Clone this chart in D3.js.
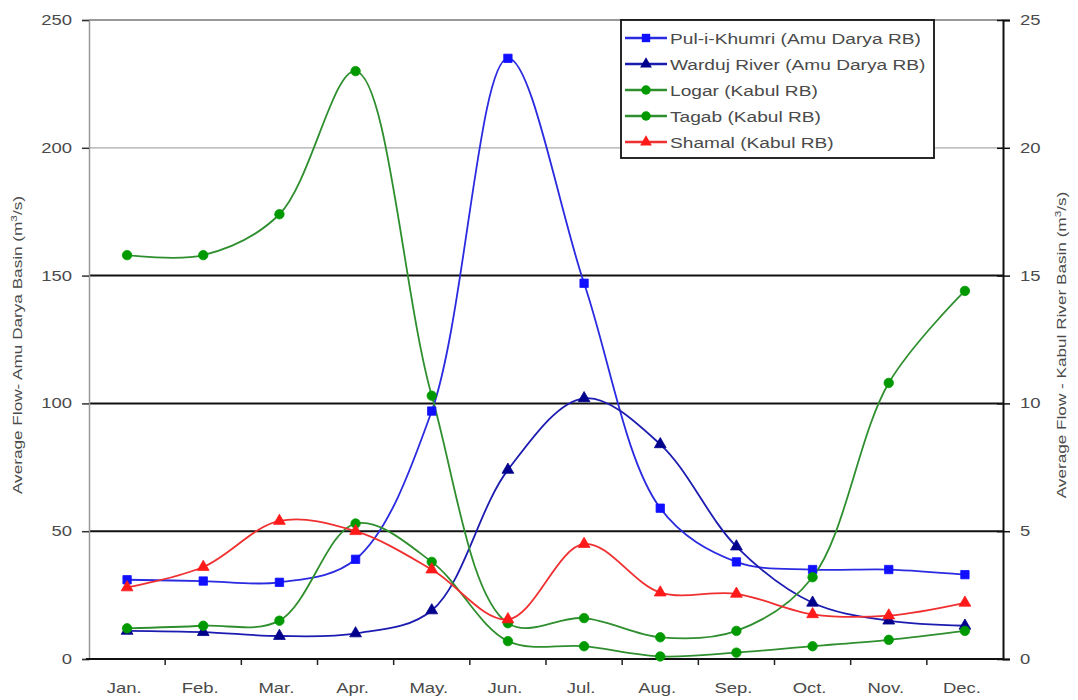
<!DOCTYPE html>
<html>
<head>
<meta charset="utf-8">
<script src="https://cdn.jsdelivr.net/npm/d3@7"></script>
<style>
  body { margin: 0; background: #fff; }
  svg { font-family: "Liberation Sans", Arial, sans-serif; }
</style>
</head>
<body>
<svg id="chart" width="1078" height="700"></svg>
<script>
// months on the x axis
var months = ["Jan.", "Feb.", "Mar.", "Apr.", "May.", "Jun.", "Jul.", "Aug.", "Sep.", "Oct.", "Nov.", "Dec."];
// Amu Darya basin, left axis (m3/s)
var puliKhumri = [31, 30.5, 30, 39, 97, 235, 147, 59, 38, 35, 35, 33];
var warduj = [11, 10.5, 9, 10, 19, 74, 102, 84, 44, 22, 15, 13];
// Kabul basin, right axis (m3/s)
var logar = [15.8, 15.8, 17.4, 23.0, 10.3, 1.4, 1.6, 0.85, 1.1, 3.2, 10.8, 14.4];
var tagab = [1.2, 1.3, 1.5, 5.3, 3.8, 0.7, 0.5, 0.1, 0.25, 0.5, 0.75, 1.1];
var shamal = [2.8, 3.6, 5.4, 5.0, 3.5, 1.55, 4.5, 2.6, 2.55, 1.75, 1.7, 2.2];
var leftTicks = [0, 50, 100, 150, 200, 250];
var rightTicks = [0, 5, 10, 15, 20, 25];

var svg = d3.select("#chart");
var plotL = 89, plotR = 1003, plotT = 20, plotB = 659;
var txtColor = "#4a4a4a";
var stretch = 1.32; // the source text is wide, squeeze it out horizontally

var x = d3.scaleBand().domain(months).range([plotL, plotR]);
var cx = function(i) { return x(months[i]) + x.bandwidth() / 2; };
var yL = d3.scaleLinear().domain([0, 250]).range([plotB, plotT]);
var yR = d3.scaleLinear().domain([0, 25]).range([plotB, plotT]);

// a text that is wider than the font would draw it
function wideText(parent, px, py, anchor, size, rot) {
    return parent.append("text")
        .attr("transform", "translate(" + px + "," + py + ")" + (rot ? " rotate(" + rot + ")" : "") + " scale(" + stretch + ",1)")
        .attr("text-anchor", anchor).attr("font-size", size).attr("fill", txtColor);
}

// gridlines
leftTicks.forEach(function(t) {
    if (t === 0) return;
    var dark = (t === 50 || t === 100 || t === 150);
    svg.append("line")
        .attr("x1", plotL).attr("x2", plotR)
        .attr("y1", yL(t)).attr("y2", yL(t))
        .attr("stroke", dark ? "#111" : (t === 250 ? "#777" : "#aaa"))
        .attr("stroke-width", dark ? 2 : 1.3);
});

// left axis
var gL = svg.append("g").attr("transform", "translate(" + plotL + ",0)")
    .call(d3.axisLeft(yL).tickValues(leftTicks).tickSize(7).tickFormat(""));
gL.select(".domain").attr("stroke", "#999").attr("stroke-width", 1.5);
gL.selectAll(".tick line").attr("stroke", "#333").attr("stroke-width", 1.5);
leftTicks.forEach(function(t) {
    wideText(svg, 72, yL(t) + 5, "end", 14).text(t);
});

// right axis
var gR = svg.append("g").attr("transform", "translate(" + plotR + ",0)")
    .call(d3.axisRight(yR).tickValues(rightTicks).tickSize(7).tickFormat(""));
gR.select(".domain").attr("stroke", "#111").attr("stroke-width", 2);
gR.selectAll(".tick line").attr("stroke", "#111").attr("stroke-width", 1.5).attr("x1", -6);
rightTicks.forEach(function(t) {
    wideText(svg, 1020, yR(t) + 5, "start", 14).text(t);
});

// bottom axis
svg.append("line").attr("x1", plotL - 3).attr("x2", plotR).attr("y1", plotB).attr("y2", plotB)
    .attr("stroke", "#111").attr("stroke-width", 2);
months.forEach(function(m, i) {
    if (i > 0) {
        svg.append("line").attr("x1", x(m)).attr("x2", x(m))
            .attr("y1", plotB).attr("y2", plotB + 6)
            .attr("stroke", "#222").attr("stroke-width", 1.5);
    }
    wideText(svg, cx(i) - 3, 693, "middle", 14).text(m);
});

// axis titles
wideText(svg, 22, 345, "middle", 13, -90)
    .html('Average Flow- Amu Darya Basin (m<tspan baseline-shift="super" font-size="9">3</tspan>/s)');
wideText(svg, 1066, 345, "middle", 13, -90)
    .html('Average Flow - Kabul River Basin (m<tspan baseline-shift="super" font-size="9">3</tspan>/s)');

var series = [
    { name: "Pul-i-Khumri (Amu Darya RB)", values: puliKhumri, y: yL, line: "#2a2ae0", fill: "#1010ff", marker: "square" },
    { name: "Warduj River (Amu Darya RB)", values: warduj, y: yL, line: "#1c1cb0", fill: "#00008c", marker: "triangle" },
    { name: "Logar (Kabul RB)", values: logar, y: yR, line: "#2f8f2f", fill: "#009a00", marker: "circle" },
    { name: "Tagab (Kabul RB)", values: tagab, y: yR, line: "#2f8f2f", fill: "#009a00", marker: "circle" },
    { name: "Shamal (Kabul RB)", values: shamal, y: yR, line: "#f03030", fill: "#ff1a1a", marker: "triangle" }
];

var symbols = { square: d3.symbolSquare, triangle: d3.symbolTriangle, circle: d3.symbolCircle };
var sizes = { square: 70, triangle: 60, circle: 70 };

series.forEach(function(s) {
    var line = d3.line()
        .x(function(d, i) { return cx(i); })
        .y(function(d) { return s.y(d); })
        .curve(d3.curveCatmullRom.alpha(0.5));
    svg.append("path").datum(s.values)
        .attr("d", line).attr("fill", "none")
        .attr("stroke", s.line).attr("stroke-width", 1.8);
});
series.forEach(function(s) {
    svg.selectAll(null).data(s.values).enter().append("path")
        .attr("d", d3.symbol().type(symbols[s.marker]).size(sizes[s.marker]))
        .attr("transform", function(d, i) { return "translate(" + cx(i) + "," + s.y(d) + ")"; })
        .attr("fill", s.fill).attr("stroke", s.fill).attr("stroke-width", 0.8);
});

// legend
var lg = svg.append("g").attr("transform", "translate(621,20)");
lg.append("rect").attr("width", 313).attr("height", 138)
    .attr("fill", "#fff").attr("stroke", "#111").attr("stroke-width", 1.8);
series.forEach(function(s, i) {
    var yy = 18 + i * 26;
    lg.append("line").attr("x1", 4).attr("x2", 46).attr("y1", yy).attr("y2", yy)
        .attr("stroke", s.line).attr("stroke-width", 2.5);
    lg.append("path")
        .attr("d", d3.symbol().type(symbols[s.marker]).size(sizes[s.marker]))
        .attr("transform", "translate(25," + yy + ")")
        .attr("fill", s.fill);
    wideText(lg, 49, yy + 6, "start", 14.5).text(s.name);
});
</script>
</body>
</html>
